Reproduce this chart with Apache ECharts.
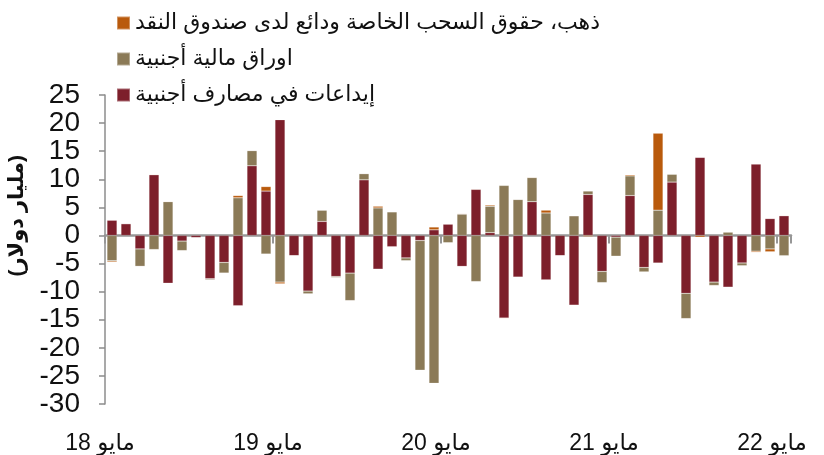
<!DOCTYPE html>
<html>
<head>
<meta charset="utf-8">
<script src="https://cdn.jsdelivr.net/npm/echarts@6/dist/echarts.min.js"></script>
<style>
  html, body { margin: 0; padding: 0; background: #fff; }
  #chart { width: 824px; height: 455px; }
</style>
</head>
<body>
<div id="chart"></div>
<script>
// monthly flows, May 2018 .. May 2022 (billion USD)
const months = [
  '2018-05', '2018-06', '2018-07', '2018-08', '2018-09', '2018-10', '2018-11', '2018-12',
  '2019-01', '2019-02', '2019-03', '2019-04', '2019-05', '2019-06', '2019-07', '2019-08',
  '2019-09', '2019-10', '2019-11', '2019-12', '2020-01', '2020-02', '2020-03', '2020-04',
  '2020-05', '2020-06', '2020-07', '2020-08', '2020-09', '2020-10', '2020-11', '2020-12',
  '2021-01', '2021-02', '2021-03', '2021-04', '2021-05', '2021-06', '2021-07', '2021-08',
  '2021-09', '2021-10', '2021-11', '2021-12', '2022-01', '2022-02', '2022-03', '2022-04',
  '2022-05'
]

const deposits = [
  2.7, 2.1, -2.4, 10.8, -8.5, -1.0, -0.4, -7.7, -4.8, -12.5, 12.4, 7.9,
  20.6, -3.6, -9.9, 2.5, -7.3, -6.7, 9.9, -6.0, -2.0, -4.0, -0.9, 1.0,
  2.0, -5.5, 8.2, 0.5, -14.7, -7.4, 6.0, -7.9, -3.6, -12.4, 7.3, -6.4,
  -0.3, 7.1, -5.7, -4.9, 9.5, -10.3, 13.9, -8.3, -9.2, -4.9, 12.7, 3.0,
  3.5
]

const securities = [
  -4.5, 0, -3.1, -2.5, 6.0, -1.7, 0, -0.2, -1.9, 6.7, 2.7, -3.3,
  -8.3, 0, -0.5, 2.0, -0.2, -4.9, 1.1, 4.9, 4.2, -0.5, -23.1, -26.3,
  -1.3, 3.8, -8.2, 4.7, 8.9, 6.4, 4.3, 4.0, 0, 3.5, 0.6, -2.0,
  -3.4, 3.5, -0.8, 4.5, 1.4, -4.5, 0, -0.6, 0.6, -0.5, -2.8, -2.4,
  -3.6
]

const goldSdr = [
  -0.2, 0, 0, 0.1, 0.1, 0, 0, 0, 0, 0.4, 0, 0.8,
  -0.3, 0, 0, 0, 0, 0, 0, 0.3, 0, 0, 0, 0.5,
  0, 0.1, 0.1, 0.2, -0.1, 0, 0.1, 0.5, 0, 0, -0.2, 0,
  0, 0.2, 0, 13.7, 0, 0, -0.3, -0.1, 0, 0, -0.2, -0.5,
  0.1
]

const yearLabels = ['مايو 18', 'مايو 19', 'مايو 20', 'مايو 21', 'مايو 22']

const nameDeposits = 'إيداعات في مصارف أجنبية'
const nameSecurities = 'اوراق مالية أجنبية'
const nameGold = 'ذهب، حقوق السحب الخاصة ودائع لدى صندوق النقد'

const font = 'Arial, "Liberation Sans", "DejaVu Sans", sans-serif'

let chart = echarts.init(document.getElementById('chart'), null, { renderer: 'canvas' })

let bar = (name, data, color) => ({
  name: name,
  type: 'bar',
  stack: 'total',
  data: data,
  barWidth: 10,
  itemStyle: { color: color, borderColor: 'rgba(255,255,255,0.35)', borderWidth: 0.5 },
  emphasis: { disabled: true }
})

let opts = {
  animation: false,
  textStyle: { fontFamily: font },
  grid: { left: 105, right: 33, top: 95, bottom: 51 },
  legend: {
    orient: 'vertical',
    left: 111,
    top: 7,
    itemWidth: 13,
    itemHeight: 13,
    itemGap: 14,
    icon: 'rect',
    data: [nameGold, nameSecurities, nameDeposits],
    textStyle: { fontSize: 22, color: '#111', fontFamily: font }
  },
  graphic: [{
    type: 'text',
    left: 7,
    top: 155,
    rotation: Math.PI / 2,
    style: {
      text: '(مليار دولار)',
      font: 'bold 21px ' + font,
      fill: '#111'
    }
  }],
  xAxis: [{
    type: 'category',
    data: months,
    position: 'bottom',
    axisLine: { onZero: true, lineStyle: { color: '#979797', width: 2.5 } },
    axisTick: { show: true, interval: (i) => i % 12 === 0, length: 8, lineStyle: { color: '#979797', width: 2 } },
    axisLabel: { show: false }
  }, {
    type: 'category',
    data: months,
    position: 'bottom',
    axisLine: { show: false, onZero: false },
    axisTick: { show: false },
    axisLabel: {
      interval: (i) => i % 12 === 0,
      formatter: (v, i) => yearLabels[i / 12],
      fontSize: 23,
      color: '#111',
      margin: 28,
      padding: [0, 24, 0, 0]
    }
  }],
  yAxis: {
    type: 'value',
    min: -30,
    max: 25,
    interval: 5,
    axisLine: { show: true, lineStyle: { color: '#8c8c8c', width: 1.5 } },
    axisTick: { show: true, length: 6, lineStyle: { color: '#8c8c8c', width: 1.5 } },
    axisLabel: { fontSize: 28, color: '#111', margin: 25 },
    splitLine: { show: false }
  },
  series: [
    bar(nameDeposits, deposits, '#7d1f2b'),
    bar(nameSecurities, securities, '#8b7a57'),
    bar(nameGold, goldSdr, '#b95a0c')
  ]
}

chart.setOption(opts)
</script>
</body>
</html>
